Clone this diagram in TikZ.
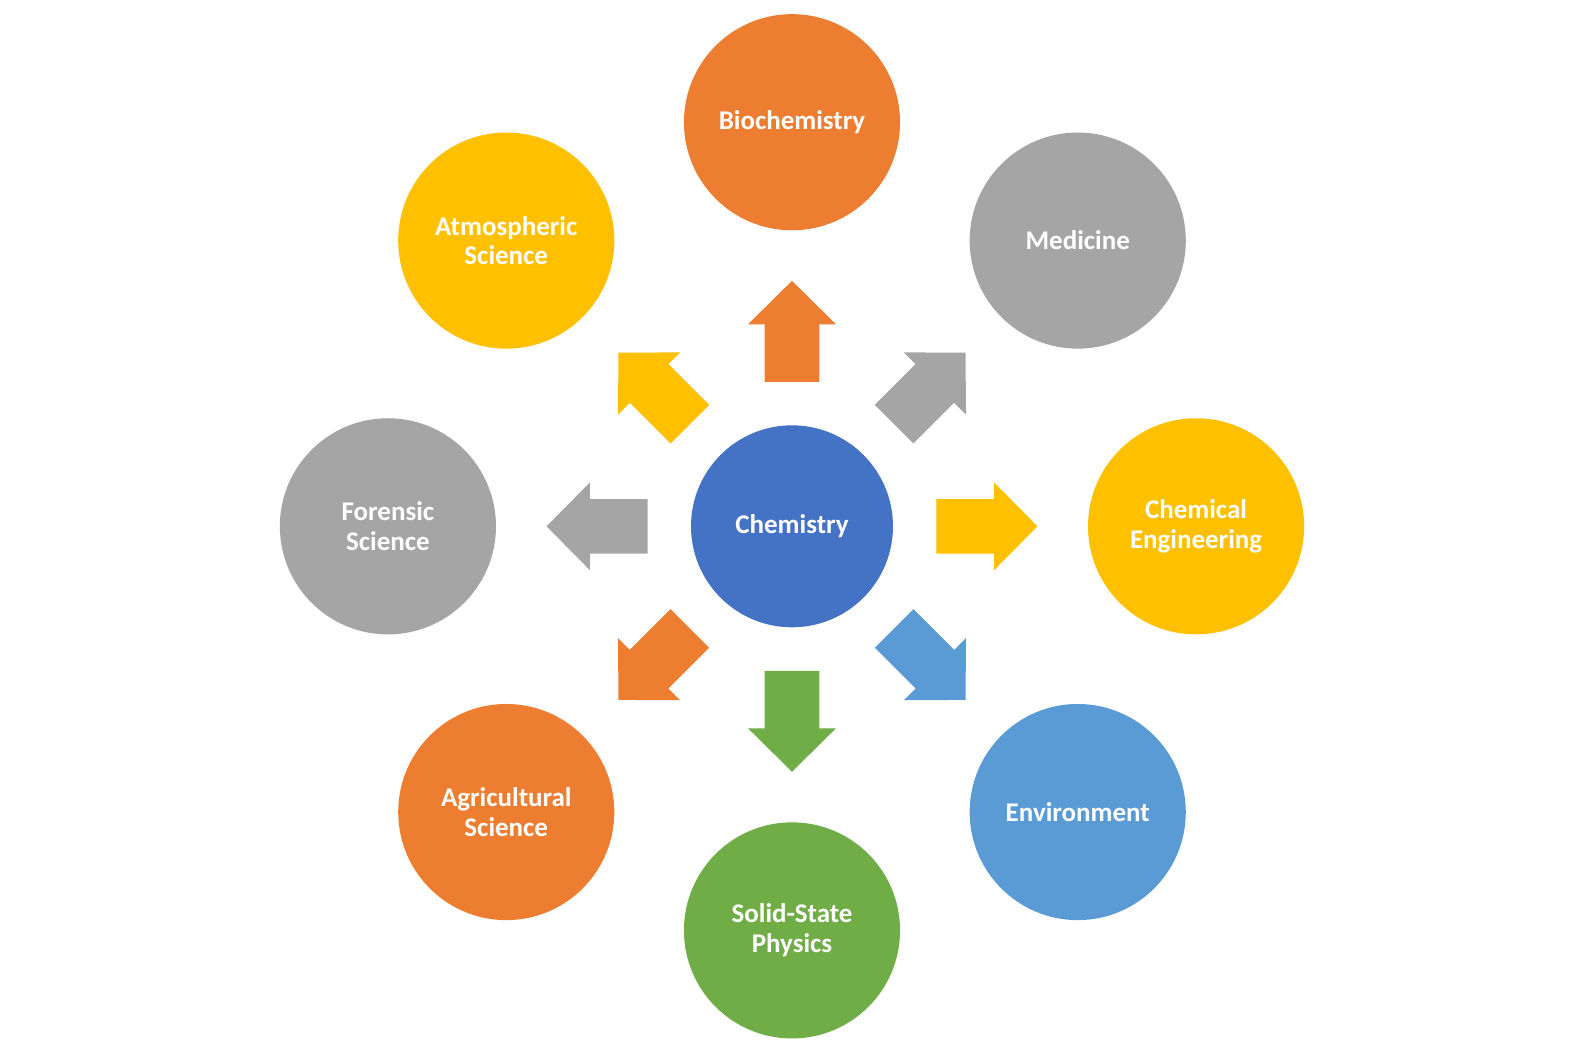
\documentclass[tikz,border=0pt]{standalone}
\usepackage{fontspec}
\setmainfont{Carlito}
\usetikzlibrary{positioning}
\definecolor{orangeA}{HTML}{ED7D31}
\definecolor{grayA}{HTML}{A5A5A5}
\definecolor{goldA}{HTML}{FFC000}
\definecolor{blueA}{HTML}{4472C4}
\definecolor{lblueA}{HTML}{5B9BD5}
\definecolor{greenA}{HTML}{70AD47}
\tikzset{field/.style={circle,minimum size=4.28cm,inner sep=0pt,align=center,
    text=white,font=\bfseries\fontsize{15.2}{16.7}\selectfont}}

\begin{document}
\begin{tikzpicture}[x=0.02cm,y=0.02cm]
 \useasboundingbox (-784,-523) rectangle (784,521);

 \node[field,fill=blueA,minimum size=4cm] (chem) at (0,0) {Chemistry};

 \node[field,fill=orangeA] (bio) at (90:400) {Biochemistry};
 \node[field,fill=grayA] (med) at (45:400) {Medicine};
 \node[field,fill=goldA] (eng) at (0:400) {Chemical\\Engineering};
 \node[field,fill=lblueA] (env) at (-45:400) {Environment};
 \node[field,fill=greenA] (solid) at (-90:400) {Solid-State\\Physics};
 \node[field,fill=orangeA] (agri) at (-135:400) {Agricultural\\Science};
 \node[field,fill=grayA] (foren) at (180:400) {Forensic\\Science};
 \node[field,fill=goldA] (atmo) at (135:400) {Atmospheric\\Science};

 % block arrows out of the centre
 \foreach \ang/\col in {90/orangeA,45/grayA,0/goldA,-45/lblueA,-90/greenA,-135/orangeA,180/grayA,135/goldA}
  \fill[\col,rotate=\ang] (143,-27) -- (200,-27) -- (200,-43.5) -- (243,0) -- (200,43.5) -- (200,27) -- (143,27) -- cycle;
\end{tikzpicture}
\end{document}
